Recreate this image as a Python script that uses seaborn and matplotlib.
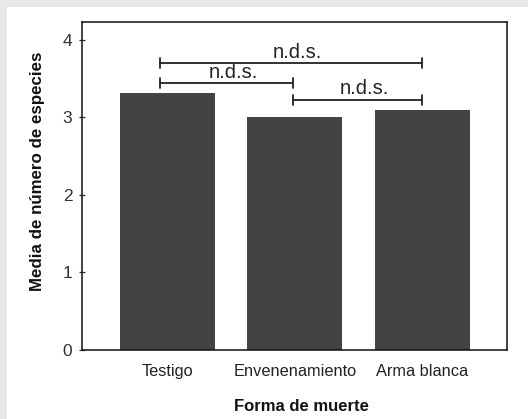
import matplotlib
matplotlib.use("Agg")
import matplotlib.pyplot as plt
import seaborn as sns
import pandas as pd
from matplotlib.patches import Rectangle

categories = ["Testigo", "Envenenamiento", "Arma blanca"]
means = [3.31, 3.00, 3.10]
y_ticks = [0, 1, 2, 3, 4]
comparisons = [(0, 2, 3.70, "n.d.s."), (0, 1, 3.44, "n.d.s."), (1, 2, 3.23, "n.d.s.")]

sns.set_theme(style="white")
plt.rcParams['font.family'] = ['Liberation Sans', 'DejaVu Sans']

df = pd.DataFrame({"Forma de muerte": categories, "Media": means})

W, H = 528, 419
fig = plt.figure(figsize=(W / 100, H / 100), dpi=100, facecolor="#e6e7e9")
fig.patches.append(Rectangle((7 / W, 0), 1, 1 - 7 / H, transform=fig.transFigure,
                             facecolor="white", edgecolor="none", zorder=-1))
ax = fig.add_axes([82 / W, 1 - 350 / H, (507 - 82) / W, (350 - 22) / H])

sns.barplot(data=df, x="Forma de muerte", y="Media", color="#434343", saturation=1,
            width=0.745, ax=ax, edgecolor="none")

ax.set_ylim(0, 4.23)
ax.set_xlim(-0.67, 2.663)
ax.set_yticks(y_ticks)
ax.set_yticklabels([str(t) for t in y_ticks], fontsize=12.5, color="#333333")
ax.tick_params(axis="y", length=4, width=0.9, color="#333333", direction="inout",
               pad=5, left=True)
ax.tick_params(axis="x", length=0, pad=10, labelsize=11.8, labelcolor="#222222")
for s in ax.spines.values():
    s.set_visible(True)
    s.set_color("#111111")
    s.set_linewidth(1.1)

ax.set_xlabel("Forma de muerte", fontsize=12, fontweight="bold", color="#111111")
ax.xaxis.set_label_coords(0.516, -0.148)
ax.set_ylabel("Media de número de especies", fontsize=12.2, fontweight="bold", color="#111111")
ax.yaxis.set_label_coords(-0.087, 0.546)

h = 0.065
for a, b, y, lab in comparisons:
    xa = a - 0.055 if a == 0 else a - 0.015
    xb = b - 0.015 if b == 1 else b
    ax.plot([xa, xb], [y, y], color="#222222", lw=1.3)
    ax.plot([xa, xa], [y - h, y + h], color="#222222", lw=1.3)
    ax.plot([xb, xb], [y - h, y + h], color="#222222", lw=1.3)
    ax.text((xa + xb) / 2 + 0.05, y + 0.02, lab, ha="center", va="bottom",
            fontsize=14.5, color="#222222")

fig.savefig("out.png", dpi=100, facecolor=fig.get_facecolor())
